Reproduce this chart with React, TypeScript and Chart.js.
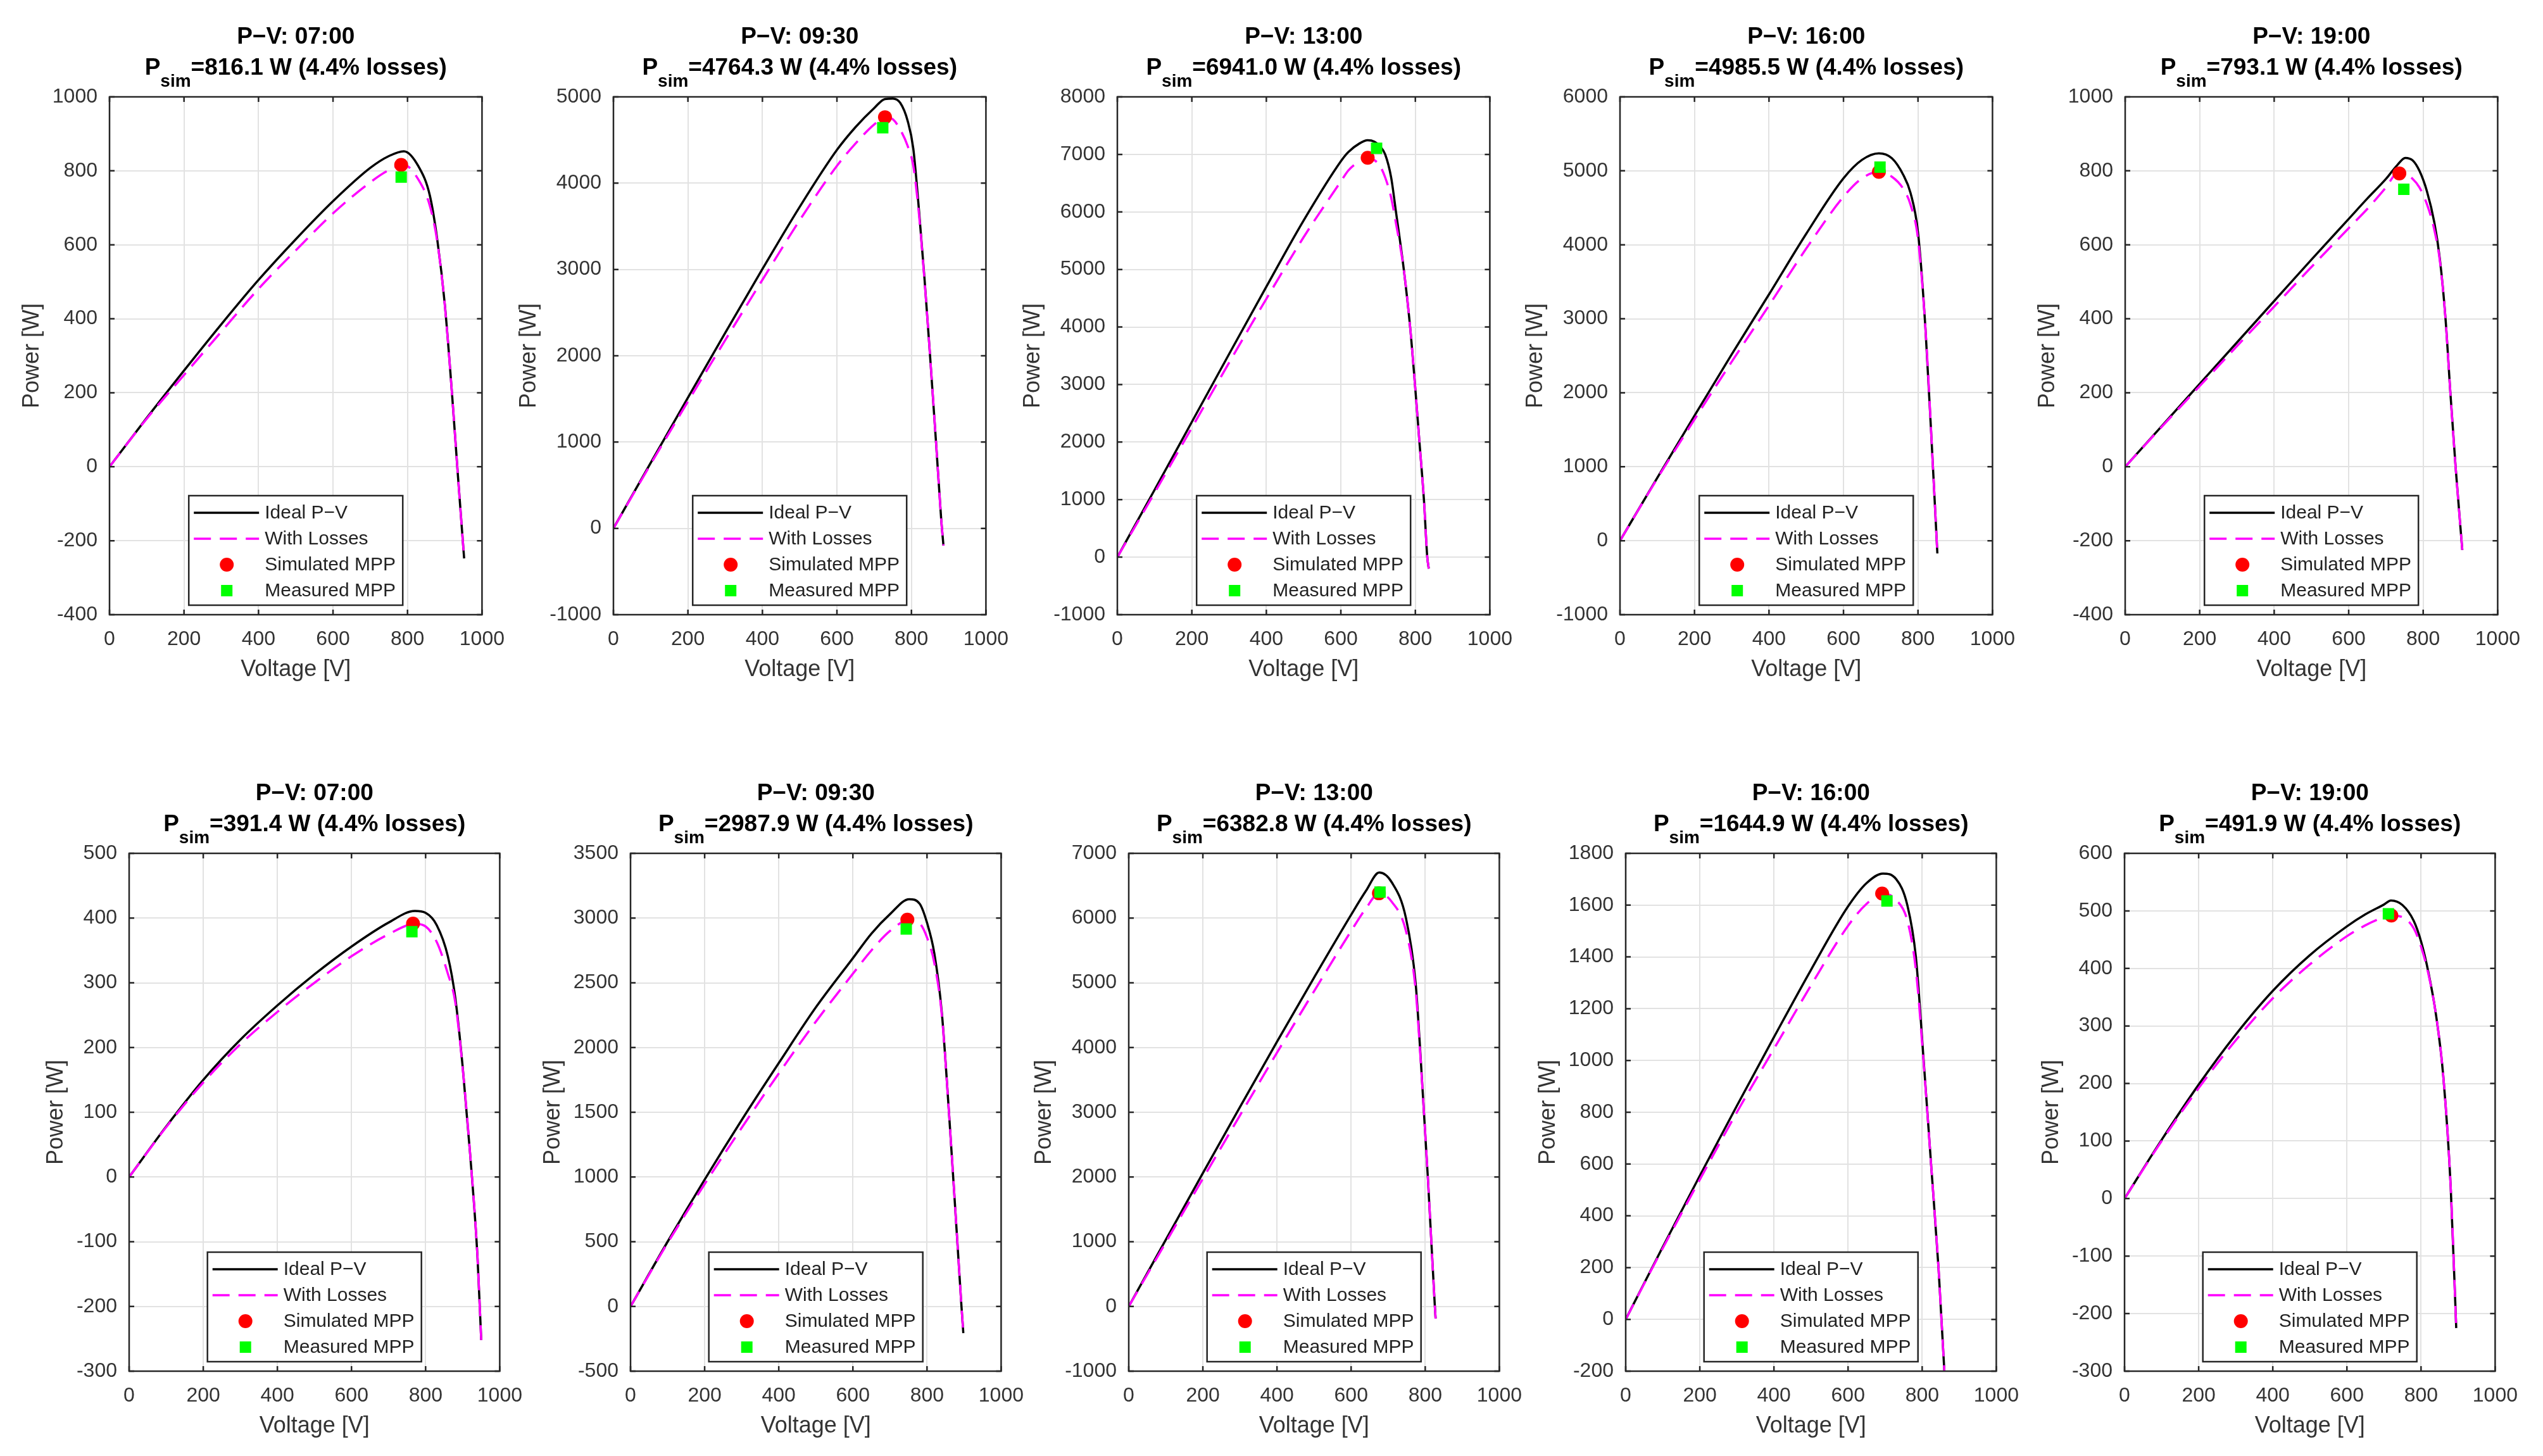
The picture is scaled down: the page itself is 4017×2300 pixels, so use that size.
import { useEffect, useRef } from "react"
import { Chart, registerables } from "chart.js"

Chart.register(...registerables)

const FONT = '"Liberation Sans", Arial, Helvetica, sans-serif'

// panel titles: top row then bottom row
const panelTimes = ["07:00", "09:30", "13:00", "16:00", "19:00", "07:00", "09:30", "13:00", "16:00", "19:00"]
const panelPsim = [816.1, 4764.3, 6941.0, 4985.5, 793.1, 391.4, 2987.9, 6382.8, 1644.9, 491.9]
const lossPercent = 4.4

// axis ranges
const xTicks = [0, 200, 400, 600, 800, 1000]
const yMinValues = [-400, -1000, -1000, -1000, -400, -300, -500, -1000, -200, -300]
const yMaxValues = [1000, 5000, 8000, 6000, 1000, 500, 3500, 7000, 1800, 600]
const yStepValues = [200, 1000, 1000, 1000, 200, 100, 500, 1000, 200, 100]

// maximum power points
const simMppV = [783, 729, 672, 695, 736, 766, 747, 675, 692, 720]
const simMppP = [816.1, 4764.3, 6941.0, 4985.5, 793.1, 391.4, 2987.9, 6382.8, 1644.9, 491.9]
const measMppV = [783, 723, 696, 698, 748, 763, 744, 678, 705, 712]
const measMppP = [783, 4643, 7107, 5050, 750, 379, 2916, 6400, 1616, 495]

// P-V curves (voltage, ideal power, power with losses)
const v1 = [0, 100, 200, 300, 400, 500, 600, 700, 750, 790, 830, 860, 880, 900, 920, 935, 952]
const ideal1 = [0, 132, 260, 385, 505, 615, 718, 808, 840, 853, 811, 733, 613, 440, 190, -20, -248]
const loss1 = [0, 130, 248, 365, 481, 585, 685, 769, 802, 816, 775, 705, 608, 438, 189, -20, -248]

const v2 = [0, 100, 200, 300, 400, 500, 600, 650, 700, 729, 750, 770, 790, 805, 820, 835, 850, 866, 880, 886]
const ideal2 = [0, 760, 1515, 2265, 3005, 3725, 4385, 4650, 4870, 4975, 4980, 4930, 4720, 4400, 3700, 2900, 2000, 1000, 100, -200]
const loss2 = [0, 745, 1470, 2180, 2880, 3570, 4200, 4460, 4680, 4764, 4740, 4620, 4430, 4200, 3650, 2880, 2000, 1000, 100, -200]

const v3 = [0, 100, 200, 300, 400, 500, 600, 620, 650, 672, 690, 705, 719, 735, 748, 769, 786, 799, 811, 823, 832, 836]
const ideal3 = [0, 1170, 2350, 3530, 4700, 5850, 6880, 7040, 7190, 7245, 7220, 7140, 7000, 6600, 6000, 5000, 4000, 3000, 2000, 1000, 0, -200]
const loss3 = [0, 1120, 2250, 3380, 4490, 5560, 6530, 6720, 6880, 6941, 6900, 6800, 6600, 6250, 5800, 5000, 4000, 3000, 2000, 1000, 0, -200]

const v4 = [0, 100, 200, 300, 400, 500, 600, 650, 695, 730, 760, 780, 800, 820, 840, 852]
const ideal4 = [0, 850, 1690, 2520, 3330, 4150, 4900, 5150, 5237, 5170, 4950, 4700, 4170, 2870, 1010, -172]
const loss4 = [0, 840, 1640, 2420, 3180, 3950, 4650, 4900, 4985, 4920, 4760, 4540, 4080, 2870, 1010, -172]

const v5 = [0, 100, 200, 300, 400, 500, 600, 650, 700, 730, 752, 772, 790, 810, 830, 845, 860, 873, 887, 905]
const ideal5 = [0, 112, 224, 336, 448, 560, 670, 725, 778, 815, 835, 828, 800, 745, 660, 560, 400, 200, 0, -225]
const loss5 = [0, 110, 218, 326, 433, 540, 645, 697, 755, 792, 790, 778, 755, 710, 640, 555, 400, 200, 0, -225]

const v6 = [0, 100, 200, 300, 400, 500, 600, 700, 771, 800, 830, 860, 880, 900, 920, 940, 950]
const ideal6 = [0, 78, 150, 212, 265, 313, 356, 393, 411, 408, 389, 341, 277, 170, 36, -124, -252]
const loss6 = [0, 77, 146, 205, 255, 300, 341, 375, 391, 387, 363, 314, 270, 168, 36, -124, -252]

const v7 = [0, 100, 200, 300, 400, 500, 600, 650, 700, 752, 780, 800, 820, 840, 860, 880, 893, 898]
const ideal7 = [0, 500, 980, 1440, 1880, 2310, 2690, 2880, 3030, 3146, 3111, 2964, 2724, 2269, 1466, 583, 0, -206]
const loss7 = [0, 490, 945, 1380, 1800, 2200, 2570, 2750, 2900, 2985, 2960, 2850, 2650, 2250, 1466, 583, 0, -206]

const v8 = [0, 100, 200, 300, 400, 500, 600, 640, 676, 710, 748, 774, 786, 807, 826, 828]
const ideal8 = [0, 1030, 2060, 3080, 4090, 5080, 6050, 6420, 6704, 6550, 6000, 5000, 4000, 2000, 0, -187]
const loss8 = [0, 990, 1975, 2950, 3920, 4870, 5800, 6150, 6383, 6250, 5800, 4900, 3950, 2000, 0, -187]

const v9 = [0, 100, 200, 300, 400, 500, 600, 650, 694, 730, 760, 783, 804, 824, 844, 852, 865]
const ideal9 = [0, 280, 555, 825, 1090, 1350, 1595, 1685, 1722, 1700, 1600, 1400, 1000, 600, 200, 0, -330]
const loss9 = [0, 275, 540, 800, 1045, 1290, 1520, 1605, 1645, 1620, 1540, 1350, 990, 600, 200, 0, -330]

const v10 = [0, 100, 200, 300, 400, 500, 600, 650, 700, 719, 750, 780, 800, 820, 840, 860, 880, 895]
const ideal10 = [0, 102, 198, 285, 361, 423, 473, 494, 511, 518, 510, 483, 447, 393, 321, 213, 21, -225]
const loss10 = [0, 100, 192, 275, 348, 407, 456, 475, 489, 492, 489, 470, 438, 390, 321, 213, 21, -225]

const voltages = [v1, v2, v3, v4, v5, v6, v7, v8, v9, v10]
const idealCurves = [ideal1, ideal2, ideal3, ideal4, ideal5, ideal6, ideal7, ideal8, ideal9, ideal10]
const lossCurves = [loss1, loss2, loss3, loss4, loss5, loss6, loss7, loss8, loss9, loss10]

const legendLabels = ["Ideal P\u2212V", "With Losses", "Simulated MPP", "Measured MPP"]

// layout of the plot boxes on the page
const plotLefts = [173, 969, 1765, 2559, 3357, 204, 996, 1783, 2568, 3356]
const plotTops = [153, 153, 153, 153, 153, 1348, 1348, 1348, 1348, 1348]
const plotWidths = [594, 594, 594, 594, 594, 591, 591, 591, 591, 591]
const PLOT_H = 818
const PAD_LEFT = 170
const PAD_TOP = 140
const PAD_RIGHT = 50
const PAD_BOTTOM = 115

const AXIS = "#262626"
const TICK_TEXT = "#333333"
const GRID = "#e2e2e2"
const MAGENTA = "#ff00ff"
const DASH = [27, 14]

function decorPlugin(i: number) {
  return {
    id: "decor" + i,
    afterDraw(chart: any) {
      const { ctx, chartArea: a, scales } = chart
      const xs = scales.x
      const ys = scales.y
      const cx = (a.left + a.right) / 2
      const cy = (a.top + a.bottom) / 2
      ctx.save()

      // inward tick marks and box
      ctx.strokeStyle = AXIS
      ctx.lineWidth = 2.5
      ctx.beginPath()
      xs.ticks.forEach((t: any) => {
        const px = xs.getPixelForValue(t.value)
        ctx.moveTo(px, a.bottom)
        ctx.lineTo(px, a.bottom - 8)
        ctx.moveTo(px, a.top)
        ctx.lineTo(px, a.top + 8)
      })
      ys.ticks.forEach((t: any) => {
        const py = ys.getPixelForValue(t.value)
        ctx.moveTo(a.left, py)
        ctx.lineTo(a.left + 8, py)
        ctx.moveTo(a.right, py)
        ctx.lineTo(a.right - 8, py)
      })
      ctx.stroke()
      ctx.strokeRect(a.left, a.top, a.right - a.left, a.bottom - a.top)

      // title
      ctx.fillStyle = "#000000"
      ctx.textBaseline = "alphabetic"
      ctx.textAlign = "center"
      ctx.font = `bold 37px ${FONT}`
      ctx.fillText(`P\u2212V: ${panelTimes[i]}`, cx, a.top - 84)
      const rest = `=${panelPsim[i].toFixed(1)} W (${lossPercent}% losses)`
      const wP = ctx.measureText("P").width
      const wRest = ctx.measureText(rest).width
      ctx.font = `bold 28px ${FONT}`
      const wSub = ctx.measureText("sim").width
      let x = cx - (wP + wSub + wRest) / 2
      ctx.textAlign = "left"
      ctx.font = `bold 37px ${FONT}`
      ctx.fillText("P", x, a.top - 35)
      x += wP
      ctx.font = `bold 28px ${FONT}`
      ctx.fillText("sim", x, a.top - 16)
      x += wSub
      ctx.font = `bold 37px ${FONT}`
      ctx.fillText(rest, x, a.top - 35)

      // axis titles
      ctx.fillStyle = TICK_TEXT
      ctx.font = `32px ${FONT}`
      let maxW = 0
      ys.ticks.forEach((t: any) => {
        maxW = Math.max(maxW, ctx.measureText(String(t.value)).width)
      })
      ctx.font = `36px ${FONT}`
      ctx.textAlign = "center"
      ctx.textBaseline = "middle"
      ctx.fillText("Voltage [V]", cx, a.bottom + 87)
      ctx.save()
      ctx.translate(a.left - 19 - maxW - 32, cy)
      ctx.rotate(-Math.PI / 2)
      ctx.fillText("Power [W]", 0, 0)
      ctx.restore()

      // legend
      const lw = 338
      const lh = 173
      const lx = cx - lw / 2
      const ly = a.bottom - 15 - lh
      ctx.fillStyle = "#ffffff"
      ctx.fillRect(lx, ly, lw, lh)
      ctx.strokeStyle = AXIS
      ctx.lineWidth = 2.5
      ctx.strokeRect(lx, ly, lw, lh)
      const rows = [27, 68, 109, 150]
      ctx.lineWidth = 3.5
      ctx.strokeStyle = "#000000"
      ctx.beginPath()
      ctx.moveTo(lx + 8, ly + rows[0])
      ctx.lineTo(lx + 111, ly + rows[0])
      ctx.stroke()
      ctx.strokeStyle = MAGENTA
      ctx.setLineDash(DASH)
      ctx.beginPath()
      ctx.moveTo(lx + 8, ly + rows[1])
      ctx.lineTo(lx + 111, ly + rows[1])
      ctx.stroke()
      ctx.setLineDash([])
      ctx.fillStyle = "#ff0000"
      ctx.beginPath()
      ctx.arc(lx + 60, ly + rows[2], 11, 0, Math.PI * 2)
      ctx.fill()
      ctx.fillStyle = "#00ff00"
      ctx.fillRect(lx + 51, ly + rows[3] - 9, 18, 18)
      ctx.fillStyle = "#222222"
      ctx.font = `30px ${FONT}`
      ctx.textAlign = "left"
      ctx.textBaseline = "middle"
      legendLabels.forEach((label, k) => {
        ctx.fillText(label, lx + 120, ly + rows[k] + 1)
      })

      ctx.restore()
    },
  }
}

function Panel({ index }: { index: number }) {
  const canvasRef = useRef<HTMLCanvasElement>(null)
  const width = PAD_LEFT + plotWidths[index] + PAD_RIGHT
  const height = PAD_TOP + PLOT_H + PAD_BOTTOM

  useEffect(() => {
    if (!canvasRef.current) return
    const toPoints = (xs: number[], ys: number[]) => xs.map((x, k) => ({ x, y: ys[k] }))
    const chart = new Chart(canvasRef.current, {
      type: "scatter",
      data: {
        datasets: [
          {
            label: legendLabels[3],
            data: [{ x: measMppV[index], y: measMppP[index] }],
            pointStyle: "rect",
            pointRadius: 12.7,
            backgroundColor: "#00ff00",
            borderColor: "#00ff00",
            borderWidth: 0,
            order: 0,
          },
          {
            label: legendLabels[2],
            data: [{ x: simMppV[index], y: simMppP[index] }],
            pointStyle: "circle",
            pointRadius: 11,
            backgroundColor: "#ff0000",
            borderColor: "#ff0000",
            borderWidth: 0,
            order: 1,
          },
          {
            label: legendLabels[1],
            data: toPoints(voltages[index], lossCurves[index]),
            showLine: true,
            borderColor: MAGENTA,
            borderWidth: 3.5,
            borderDash: DASH,
            pointRadius: 0,
            cubicInterpolationMode: "monotone",
            order: 2,
          },
          {
            label: legendLabels[0],
            data: toPoints(voltages[index], idealCurves[index]),
            showLine: true,
            borderColor: "#000000",
            borderWidth: 3.5,
            pointRadius: 0,
            cubicInterpolationMode: "monotone",
            order: 3,
          },
        ],
      },
      options: {
        animation: false,
        responsive: false,
        devicePixelRatio: 1,
        events: [],
        layout: { padding: { left: 0, top: PAD_TOP, right: PAD_RIGHT, bottom: 0 } },
        scales: {
          x: {
            type: "linear",
            min: xTicks[0],
            max: xTicks[xTicks.length - 1],
            afterFit: (s: any) => {
              s.height = PAD_BOTTOM
            },
            ticks: {
              stepSize: xTicks[1] - xTicks[0],
              autoSkip: false,
              maxRotation: 0,
              padding: 20,
              color: TICK_TEXT,
              font: { family: FONT, size: 32 },
              callback: (v: any) => String(v),
            },
            grid: { color: GRID, lineWidth: 2, drawTicks: false },
            border: { display: false },
          },
          y: {
            type: "linear",
            min: yMinValues[index],
            max: yMaxValues[index],
            afterFit: (s: any) => {
              s.width = PAD_LEFT
            },
            ticks: {
              stepSize: yStepValues[index],
              autoSkip: false,
              padding: 19,
              color: TICK_TEXT,
              font: { family: FONT, size: 32 },
              callback: (v: any) => String(v),
            },
            grid: { color: GRID, lineWidth: 2, drawTicks: false },
            border: { display: false },
          },
        },
        plugins: {
          legend: { display: false },
          tooltip: { enabled: false },
          title: { display: false },
        },
      },
      plugins: [decorPlugin(index)],
    } as any)

    return () => {
      chart.destroy()
    }
  }, [index])

  return (
    <canvas
      ref={canvasRef}
      width={width}
      height={height}
      style={{
        position: "absolute",
        left: plotLefts[index] - PAD_LEFT,
        top: plotTops[index] - PAD_TOP,
        width,
        height,
      }}
    />
  )
}

export default function App() {
  useEffect(() => {
    document.body.style.margin = "0"
  }, [])

  return (
    <div style={{ position: "relative", width: 4017, height: 2300, background: "#ffffff", overflow: "hidden" }}>
      {panelTimes.map((_, i) => (
        <Panel key={i} index={i} />
      ))}
    </div>
  )
}
